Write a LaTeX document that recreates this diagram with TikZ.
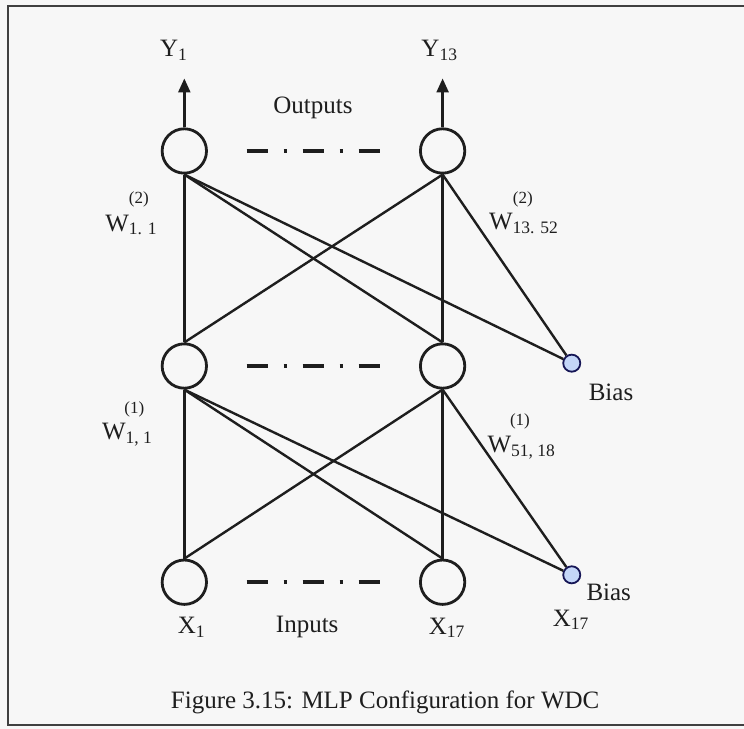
\documentclass[tikz,border=0pt]{standalone}
\usepackage{fontspec}
\setmainfont{Liberation Serif}
\usetikzlibrary{arrows.meta,positioning}

\definecolor{ink}{RGB}{30,30,30}
\definecolor{biasblue}{RGB}{196,214,248}

\begin{document}
\begin{tikzpicture}[
    neuron/.style={draw=ink, circle, line width=1.4pt, minimum size=0.78cm, inner sep=0pt},
    biasunit/.style={draw=ink!75!blue, circle, fill=biasblue, line width=0.9pt, minimum size=0.3cm, inner sep=0pt},
    link/.style={draw=ink, line width=1.2pt},
    gap/.style={draw=ink, line width=2pt, dash pattern=on 10.5pt off 8pt on 1.5pt off 8pt,
                shorten <=0.68cm, shorten >=0.68cm},
    lbl/.style={text=ink, font=\fontsize{12.5}{15}\selectfont, inner sep=1pt},
    sup/.style={text=ink, font=\fontsize{8.5}{10}\selectfont, inner sep=1pt},
  ]
  \useasboundingbox (0,0) rectangle (13.078,12.814);
  \clip (0,0) rectangle (13.078,12.814);
  \fill[black!3] (0,0) rectangle (13.078,12.814);
  % page frame
  \draw[ink!85, line width=0.8pt] (0.14,0.07) rectangle (14,12.71);

  % three layers
  \node[neuron] (out1)  at (3.24,10.16) {};
  \node[neuron] (out13) at (7.78,10.16) {};
  \node[neuron] (hid1)  at (3.24,6.38) {};
  \node[neuron] (hid51) at (7.78,6.38) {};
  \node[neuron] (in1)   at (3.24,2.58) {};
  \node[neuron] (in17)  at (7.78,2.58) {};
  \node[biasunit] (bias2) at (10.05,6.43) {};
  \node[biasunit] (bias1) at (10.05,2.71) {};

  % the units left out
  \draw[gap] (out1) -- (out13);
  \draw[gap] (hid1) -- (hid51);
  \draw[gap] (in1) -- (in17);

  % outputs
  \coordinate[above=0.86cm of out1.north] (tip1);
  \coordinate[above=0.86cm of out13.north] (tip13);
  \draw[link, -{Triangle[length=7pt,width=6pt]}] (out1) -- (tip1);
  \draw[link, -{Triangle[length=7pt,width=6pt]}] (out13) -- (tip13);

  % weights, output layer
  \draw[link] (out1.south) -- (hid1.north);
  \draw[link] (out1.south) -- (hid51.north);
  \draw[link] (out1.south) -- (bias2);
  \draw[link] (out13.south) -- (hid1.north);
  \draw[link] (out13.south) -- (hid51.north);
  \draw[link] (out13.south) -- (bias2);

  % weights, hidden layer
  \draw[link] (hid1.south) -- (in1.north);
  \draw[link] (hid1.south) -- (in17.north);
  \draw[link] (hid1.south) -- (bias1);
  \draw[link] (hid51.south) -- (in1.north);
  \draw[link] (hid51.south) -- (in17.north);
  \draw[link] (hid51.south) -- (bias1);

  % labels
  \node[lbl] (ylab1)  at (3.06,11.93) {Y\textsubscript{1}};
  \node[lbl] (ylab13) at (7.73,11.93) {Y\textsubscript{13}};
  \node[lbl] (outs)   at (5.50,10.92) {Outputs};
  \node[lbl] (ins)    at (5.40,1.79) {Inputs};
  \node[lbl] (xlab1)  at (3.37,1.79) {X\textsubscript{1}};
  \node[lbl] (xlab17) at (7.86,1.78) {X\textsubscript{17}};
  \node[lbl] (xlab18) at (10.04,1.92) {X\textsubscript{17}};
  \node[lbl] (blab2)  at (10.74,5.92) {Bias};
  \node[lbl] (blab1)  at (10.70,2.41) {Bias};

  \node[lbl] (w2a) at (2.31,8.86) {W\textsubscript{1. 1}};
  \node[sup] (w2asup) at (2.44,9.31) {(2)};
  \node[lbl] (w2b) at (9.21,8.89) {W\textsubscript{13. 52}};
  \node[sup] (w2bsup) at (9.19,9.30) {(2)};
  \node[lbl] (w1a) at (2.24,5.17) {W\textsubscript{1, 1}};
  \node[sup] (w1asup) at (2.36,5.61) {(1)};
  \node[lbl] (w1b) at (9.17,4.94) {W\textsubscript{51, 18}};
  \node[sup] (w1bsup) at (9.14,5.40) {(1)};

  \node[lbl] (caption) at (6.77,0.475) {Figure 3.15: MLP Configuration for WDC};
\end{tikzpicture}
\end{document}
